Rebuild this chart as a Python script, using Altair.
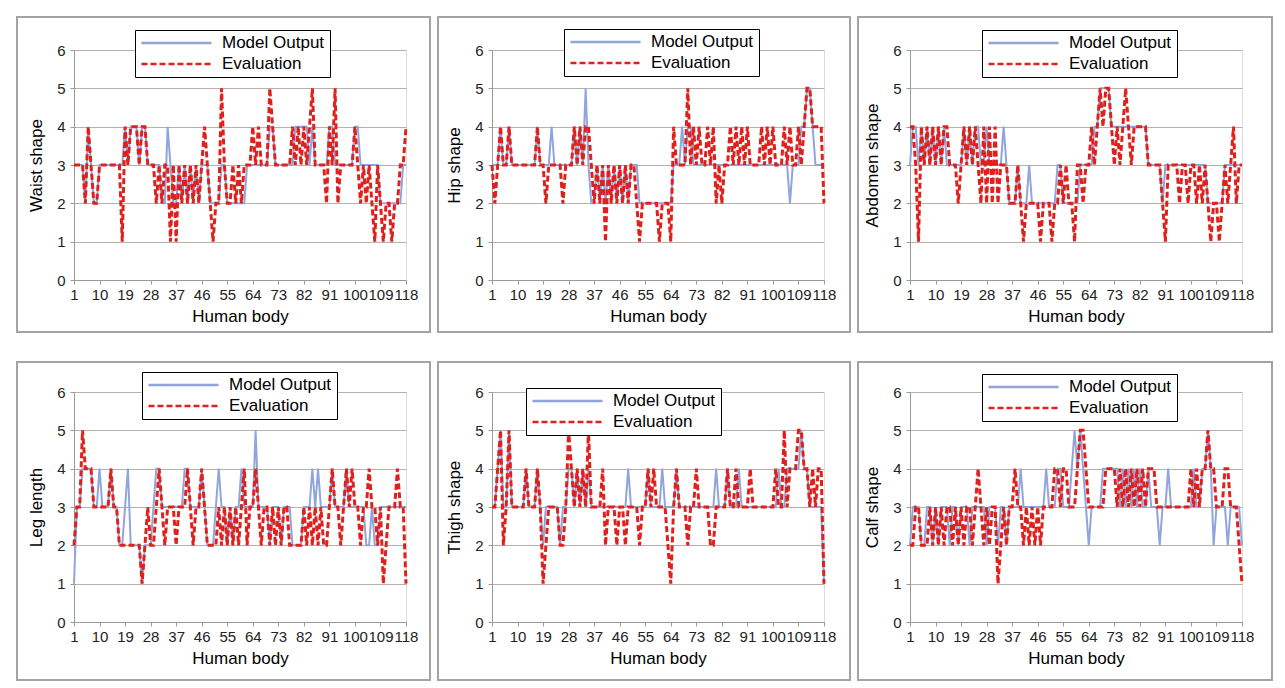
import altair as alt
import pandas as pd

x_ticks = [1, 10, 19, 28, 37, 46, 55, 64, 73, 82, 91, 100, 109, 118]
y_ticks = [0, 1, 2, 3, 4, 5, 6]
series_names = ["Model Output", "Evaluation"]
y_titles = ["Waist shape", "Hip shape", "Abdomen shape", "Leg length", "Thigh shape", "Calf shape"]

waist_model = [3,3,3,3,2,4,3,2,2,3, 3,3,3,3,3,3,3,3,4,3, 4,4,4,3,4,4,3,3,3,3,
               3,2,2,4,3,2,2,3,2,3, 2,3,2,3,2,3,3,3,2,2, 2,2,3,3,2,2,2,2,2,2,
               2,3,3,3,3,3,3,3,3,4, 4,3,3,3,3,3,3,3,4,4, 4,4,4,3,4,3,3,3,3,3,
               4,4,3,3,3,3,3,3,3,4, 4,3,3,3,3,3,3,3,2,2, 2,2,2,2,2,2,3,3]
waist_eval = [3,3,3,3,2,4,3,2,2,3, 3,3,3,3,3,3,3,1,4,3, 4,4,4,3,4,4,3,3,3,2,
              3,2,3,3,1,3,1,3,2,3, 2,3,2,3,2,3,4,3,2,1, 2,2,5,3,2,2,3,2,3,2,
              3,3,3,4,3,4,3,3,3,5, 4,3,3,3,3,3,3,4,3,4, 3,4,3,4,5,3,3,3,3,2,
              4,3,5,2,3,3,3,3,3,4, 3,2,3,2,3,2,1,3,2,1, 2,2,1,2,2,3,3,4]

hip_model = [3,3,3,4,3,3,4,3,3,3, 3,3,3,3,3,3,4,3,3,3, 3,4,3,3,3,3,3,3,3,4,
             3,4,3,5,3,2,2,3,2,3, 2,3,2,3,2,3,2,3,2,3, 3,3,2,2,2,2,2,2,2,2,
             2,2,2,2,3,3,3,4,3,4, 4,3,3,3,3,3,3,3,3,3, 3,3,3,3,3,3,3,3,3,3,
             3,3,3,3,3,3,3,3,3,3, 3,3,3,3,3,2,3,3,3,4, 4,5,5,4,3,3,3,3]
hip_eval = [3,2,3,4,3,3,4,3,3,3, 3,3,3,3,3,3,4,3,3,2, 3,3,3,3,3,2,3,3,3,4,
            3,4,3,4,4,3,2,3,2,3, 1,3,2,3,2,3,2,3,2,3, 3,2,1,2,2,2,2,2,2,1,
            2,2,2,1,4,3,3,3,3,5, 3,4,3,4,3,3,4,3,4,2, 3,2,3,3,4,3,4,3,4,3,
            4,3,3,3,3,4,3,4,3,4, 3,3,3,4,3,4,3,3,4,3, 4,5,5,4,4,4,4,2]

abdomen_model = [3,4,4,3,4,3,4,3,4,3, 4,3,4,3,3,3,3,3,3,4, 3,4,3,4,4,3,3,4,3,3,
                 3,3,3,4,3,2,2,2,3,2, 2,2,3,2,2,2,2,2,2,2, 2,2,3,3,2,2,2,2,2,2,
                 3,3,3,3,3,4,4,5,5,5, 5,4,4,4,4,4,4,4,4,4, 4,4,4,4,3,3,3,3,3,2,
                 3,3,3,3,3,3,3,3,3,3, 3,3,3,3,3,2,2,2,2,2, 2,3,3,3,3,3,3,3]
abdomen_eval = [4,4,3,1,4,3,4,3,4,3, 4,3,4,4,3,3,3,2,3,4, 3,4,3,4,3,2,4,2,4,2,
                4,2,3,3,3,2,2,2,3,2, 1,2,2,2,2,2,1,2,2,2, 1,2,2,3,2,3,2,2,1,3,
                3,2,3,3,4,3,4,5,4,5, 5,4,3,4,3,4,5,4,3,4, 4,4,4,4,3,3,3,3,3,2,
                1,3,3,3,3,2,3,3,2,3, 3,2,3,2,3,2,1,2,2,1, 2,3,2,3,4,2,3,3]

leg_model = [1,3,3,4,4,4,4,3,3,4, 3,3,3,4,3,3,2,2,3,4, 2,2,2,2,1,2,2,2,3,4,
             4,3,3,3,3,3,3,3,3,4, 4,3,3,3,3,4,3,2,2,2, 3,4,3,3,2,3,2,3,3,4,
             3,3,3,3,5,3,3,3,3,2, 3,3,3,2,3,3,3,2,2,2, 2,3,3,3,4,3,4,3,3,3,
             3,4,3,3,3,3,4,3,3,3, 3,3,3,2,2,3,2,2,3,3, 3,3,3,3,3,3,3,3]
leg_eval = [2,3,3,5,4,4,4,3,3,3, 3,3,3,4,3,3,2,2,2,2, 2,2,2,2,1,2,3,2,2,3,
            4,3,2,3,3,3,2,3,3,3, 4,3,2,3,3,4,3,2,2,2, 2,3,2,3,2,3,2,3,2,3,
            4,2,3,3,4,3,2,3,3,2, 3,2,3,2,3,3,2,2,2,2, 2,3,2,3,2,3,2,3,2,2,
            3,4,3,3,2,3,4,3,4,3, 3,2,3,3,4,3,3,2,3,1, 2,3,3,3,4,3,3,1]

thigh_model = [3,3,4,5,3,3,5,3,3,3, 3,3,4,3,3,3,4,3,2,3, 3,3,3,3,2,3,3,4,4,3,
               4,3,4,3,4,3,3,3,3,3, 3,3,3,3,3,3,3,3,4,3, 3,3,3,3,3,4,3,3,3,3,
               4,3,3,3,3,4,3,3,3,3, 3,3,3,3,3,3,3,3,3,4, 3,3,3,4,3,3,3,4,3,3,
               3,3,3,3,3,3,3,3,3,3, 3,4,3,3,4,4,4,4,4,5, 4,4,3,3,3,3,3,1]
thigh_eval = [3,3,4,5,2,3,5,3,3,3, 3,3,4,3,3,3,4,3,1,2, 3,3,3,3,2,2,3,5,4,3,
              4,3,4,3,5,3,3,3,3,4, 2,3,3,3,2,3,3,2,3,3, 3,3,2,3,3,4,3,4,3,3,
              3,3,2,1,3,4,3,3,3,2, 3,3,4,3,3,3,3,2,2,3, 3,3,3,4,3,3,4,3,3,3,
              3,4,3,3,3,3,3,3,3,3, 4,3,3,5,3,4,4,4,5,5, 4,4,3,4,3,4,4,1]

calf_model = [2,3,3,3,2,2,3,3,2,3, 2,3,3,3,2,3,3,2,3,3, 3,2,3,3,3,3,3,2,3,3,
              3,2,3,3,2,3,3,3,3,4, 3,3,3,3,3,3,3,3,4,3, 3,3,4,4,3,3,3,4,5,4,
              5,4,3,2,3,3,3,3,4,4, 4,4,4,4,3,4,3,4,3,4, 3,4,3,3,4,3,3,3,2,3,
              3,4,3,3,3,3,3,3,3,3, 4,3,3,4,4,5,4,2,3,3, 3,3,2,3,3,3,3,2]
calf_eval = [2,2,3,3,2,2,2,3,2,3, 2,3,2,3,3,2,3,2,3,2, 3,3,2,3,4,3,2,3,2,3,
             3,1,2,3,2,3,3,4,3,3, 2,3,2,3,2,3,2,3,3,3, 3,4,4,3,4,4,3,3,3,4,
             5,5,4,3,3,3,3,3,3,4, 4,4,4,3,4,3,4,3,4,3, 4,3,4,3,4,4,4,3,3,3,
             3,3,3,3,3,3,3,3,3,4, 3,4,3,4,4,5,4,4,3,3, 3,4,4,3,3,3,2,1]

models = [waist_model, hip_model, abdomen_model, leg_model, thigh_model, calf_model]
evals = [waist_eval, hip_eval, abdomen_eval, leg_eval, thigh_eval, calf_eval]
for a in models + evals:
    assert len(a) == 118, len(a)

FONT = "Liberation Sans"
BLUE = "#8fa5dc"
RED = "#e0201c"
GRID = "#b9b0a8"
AXIS = "#9a9a9a"

W = 332
H = 230

# per panel: legend x, legend y, frame left, frame right, frame top, frame bottom
layout = [
    (61, -20, -57, 24, -33, 52),
    (72, -21, -54, 26, -33, 52),
    (72, -20, -52, 30, -33, 52),
    (68, -20, -57, 24, -30, 58),
    (34, -4, -54, 26, -30, 58),
    (72, -18, -52, 30, -30, 58),
]


def panel(k):
    lx, ly, fl, fr, ft, fb = layout[k]
    idx = list(range(1, 119))
    df = pd.DataFrame({
        "i": idx + idx,
        "v": models[k] + evals[k],
        "s": [series_names[0]] * 118 + [series_names[1]] * 118,
    })
    leg = alt.Legend(
        title=None, orient="none", legendX=lx, legendY=ly,
        symbolType="stroke", symbolSize=4900, symbolStrokeWidth=2.5,
        clipHeight=16, rowPadding=4, labelOffset=9,
        labelFont=FONT, labelFontSize=17, labelColor="black",
        strokeColor="black", fillColor="white", padding=5,
        labelLimit=220,
    )
    color = alt.Color("s:N", scale=alt.Scale(domain=series_names, range=[BLUE, RED]), legend=leg)
    dash = alt.StrokeDash("s:N", scale=alt.Scale(domain=series_names, range=[[1, 0], [6, 3]]), legend=leg)
    x = alt.X("i:Q", scale=alt.Scale(domain=[1, 118], nice=False, zero=False),
              axis=alt.Axis(values=x_ticks, title="Human body", grid=False, labelOverlap=False,
                            labelFlush=False, tickSize=4, labelPadding=3, titlePadding=6,
                            labelFontSize=15, titleFontSize=17, labelFont=FONT, titleFont=FONT,
                            titleFontWeight="normal", labelColor="#222", titleColor="black",
                            domainColor=AXIS, tickColor=AXIS))
    y = alt.Y("v:Q", scale=alt.Scale(domain=[0, 6], nice=False),
              axis=alt.Axis(values=y_ticks, title=y_titles[k], grid=True, gridColor=GRID,
                            gridWidth=1.2, tickSize=4, labelPadding=5, titlePadding=11,
                            labelFontSize=15, titleFontSize=17, labelFont=FONT, titleFont=FONT,
                            titleFontWeight="normal", labelColor="#222", titleColor="black",
                            domainColor=AXIS, tickColor=AXIS))
    base = alt.Chart(df).encode(x=x, y=y, color=color, strokeDash=dash)
    blue = base.transform_filter(alt.datum.s == series_names[0]).mark_line(strokeWidth=2)
    red = base.transform_filter(alt.datum.s == series_names[1]).mark_line(strokeWidth=3)
    frame = alt.Chart(pd.DataFrame({"f": [0]})).mark_rect(
        fillOpacity=0, stroke="#a3a3a3", strokeWidth=2, clip=False
    ).encode(x=alt.value(fl), x2=alt.value(W + fr), y=alt.value(ft), y2=alt.value(H + fb))
    return alt.layer(frame, blue, red).properties(width=W, height=H)


chart = alt.concat(
    *[panel(k) for k in range(6)], columns=3,
    spacing={"row": 112, "column": 86}, bounds="flush",
).resolve_scale(
    color="independent", strokeDash="independent", x="independent", y="independent"
).properties(
    padding={"left": 7, "top": 7, "right": 0, "bottom": 0}
).configure_view(stroke=None).configure(background="white")

chart.save("out.html", embed_options={"renderer": "svg", "actions": False})
